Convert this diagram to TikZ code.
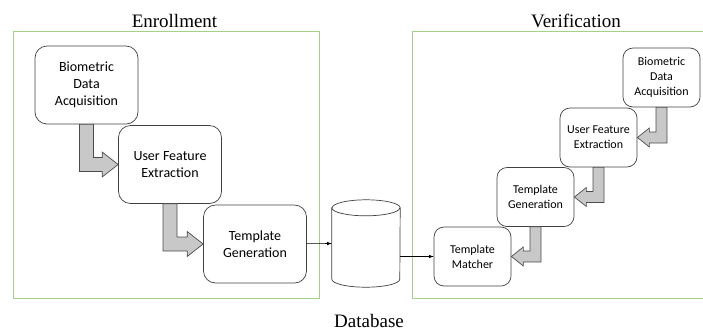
\documentclass[tikz,border=0pt]{standalone}
\usepackage{fontspec}
\setmainfont{Liberation Serif}
\newfontfamily\boxfont{Carlito}
\usepackage{tikz}
\usetikzlibrary{calc,arrows}
\usepackage{xcolor}
\definecolor{frame}{RGB}{163,208,138}
\definecolor{arrowfill}{RGB}{200,200,200}

\begin{document}
\begin{tikzpicture}[x=1pt,y=-1pt,
	box/.style={draw=black!75, line width=0.7pt, rounded corners=12pt, inner sep=0pt, align=center,
		minimum width=103pt, minimum height=78pt, font=\boxfont\fontsize{14}{17}\selectfont},
	smallbox/.style={box, rounded corners=10pt, minimum width=77pt, minimum height=59pt,
		font=\boxfont\fontsize{12}{15}\selectfont},
	blockarrow/.style={draw=black!70, line width=0.7pt, fill=arrowfill},
	title/.style={font=\fontsize{19}{22}\selectfont}]
		\useasboundingbox (0,0) rectangle (703,333);
		% source, target, half width, head half height, head length, direction
		\def\bendarrow#1#2#3#4#5#6{
			\draw[blockarrow] let \p1=(#1.south), \p2=(#2) in
			({\x1-(#6)*(#3)},\y1) -- ({\x1-(#6)*(#3)},{\y2-(#3)}) -- ({\x2-(#6)*(#5)},{\y2-(#3)})
			-- ({\x2-(#6)*(#5)},{\y2-(#4)}) -- (\x2,\y2) -- ({\x2-(#6)*(#5)},{\y2+(#4)})
			-- ({\x2-(#6)*(#5)},{\y2+(#3)}) -- ({\x1+(#6)*(#3)},{\y2+(#3)}) -- ({\x1+(#6)*(#3)},\y1) -- cycle;}

		% enrollment
		\draw[frame, line width=0.8pt] (13,31) rectangle (319,298);
		\node[title] (enr) at (174.5,21) {Enrollment};
		\node[box] (bioL) at (86.5,85) {Biometric\\Data\\Acquisition};
		\node[box] (ufeL) at (170,164.5) {User Feature\\Extraction};
		\node[box] (tgL) at (255,244) {Template\\Generation};
		\bendarrow{bioL}{ufeL.west}{7}{12.5}{16}{1}
		\bendarrow{ufeL}{tgL.west}{7}{12.5}{16}{1}

		% verification
		\draw[frame, line width=0.8pt] (703,31) -- (412,31) -- (412,298) -- (703,298);
		\node[title] (ver) at (576,21) {Verification};
		\node[smallbox] (bioR) at (661.5,77.5) {Biometric\\Data\\Acquisition};
		\node[smallbox] (ufeR) at (598.5,137.5) {User Feature\\Extraction};
		\node[smallbox] (tgR) at (535.5,197) {Template\\Generation};
		\node[smallbox] (tmR) at (472.5,256.5) {Template\\Matcher};
		\bendarrow{bioR}{ufeR.east}{5.5}{9.5}{12}{-1}
		\bendarrow{ufeR}{tgR.east}{5.5}{9.5}{12}{-1}
		\bendarrow{tgR}{tmR.east}{5.5}{9.5}{12}{-1}

		% database
		\node[minimum width=68pt, minimum height=87pt, inner sep=0pt] (db) at (366,243.5) {};
		\draw[black!75, line width=0.7pt, fill=white] ($(db.north west)+(0,8)$) -- ($(db.south west)+(0,-8)$)
			arc[start angle=180, end angle=0, x radius=34, y radius=8]
			-- ($(db.north east)+(0,8)$) arc[start angle=0, end angle=-180, x radius=34, y radius=8] -- cycle;
		\draw[black!75, line width=0.7pt] ($(db.north west)+(0,8)$) arc[start angle=180, end angle=0, x radius=34, y radius=8];
		\node[title] (dbl) at (369,321) {Database};
		\draw[-latex, line width=0.6pt] (tgL) -- (db.west);
		\draw[-latex, line width=0.6pt] (db.east |- tmR.west) -- (tmR.west);
		\end{tikzpicture}
\end{document}
